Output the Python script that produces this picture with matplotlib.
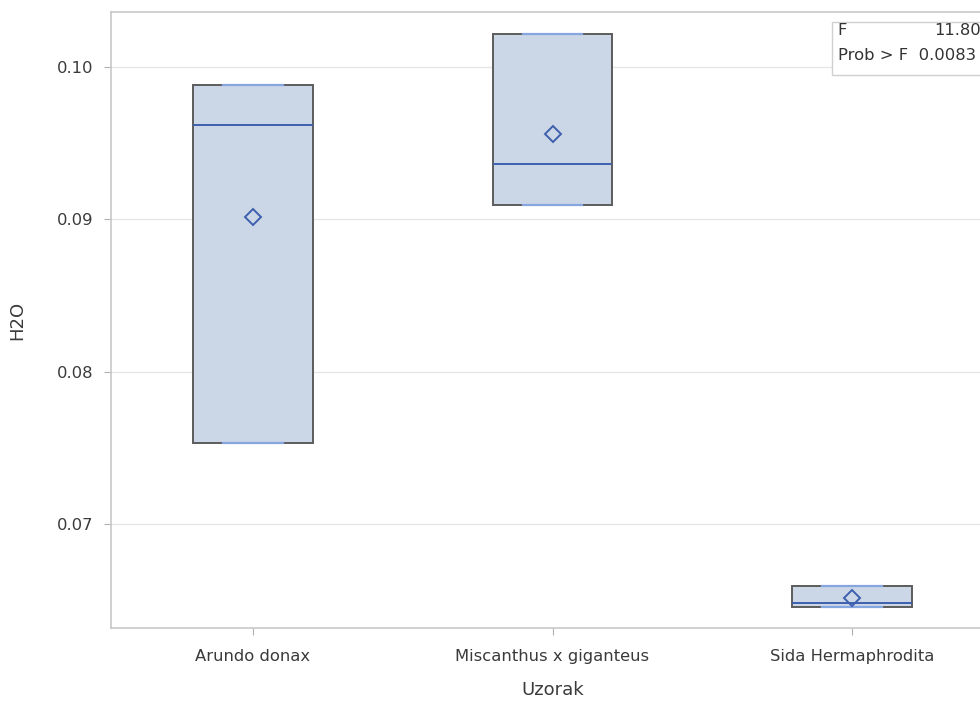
import numpy as np
import matplotlib
matplotlib.use("Agg")
import matplotlib.pyplot as plt

# Datos (H2O por especie)
categorias = ["Arundo donax", "Miscanthus x giganteus", "Sida Hermaphrodita"]
q1 = [0.07532, 0.09092, 0.06455]
mediana = [0.09619, 0.09363, 0.06481]
q3 = [0.09882, 0.10217, 0.06593]
media = [0.09013, 0.09560, 0.06514]
f_valor = "11.80"
prob_f = "0.0083"

plt.rcParams['font.family'] = ['DejaVu Sans']

stats = []
for i in range(len(categorias)):
    stats.append(dict(label=categorias[i], q1=q1[i], med=mediana[i], q3=q3[i],
                      whislo=q1[i], whishi=q3[i], mean=media[i], fliers=[]))

fig = plt.figure(figsize=(9.8, 7.02), dpi=100)
ax = fig.add_axes([0.1133, 0.1054, 0.901, 0.8775])

ax.bxp(stats, positions=range(len(categorias)), widths=0.40, patch_artist=True,
       showmeans=True, showcaps=True,
       boxprops=dict(facecolor="#cbd6e7", edgecolor="#5c5c5c", linewidth=1.4),
       medianprops=dict(color="#3e5fae", linewidth=1.4),
       whiskerprops=dict(color="#6f93d6", linewidth=1.3),
       capprops=dict(color="#86a6e0", linewidth=1.6),
       capwidths=0.20,
       meanprops=dict(marker="D", markerfacecolor="none", markeredgecolor="#3e5fae",
                      markersize=8.5, markeredgewidth=1.4))

ax.set_xlim(-0.474, 2.474)
ax.set_ylim(0.06317, 0.10361)
ax.set_yticks([0.07, 0.08, 0.09, 0.10])
ax.set_yticklabels(["0.07", "0.08", "0.09", "0.10"])
ax.yaxis.grid(True, color="#e6e6e6", linewidth=1)
ax.set_axisbelow(True)

for s in ax.spines.values():
    s.set_color("#c8c8c8")
    s.set_linewidth(1.2)
ax.tick_params(colors="#b0b0b0", labelcolor="#3a3a3a", labelsize=11.8, length=5)
ax.tick_params(axis="y", pad=8)
ax.tick_params(axis="x", pad=10)

ax.set_xlabel("Uzorak", fontsize=13, color="#3a3a3a", labelpad=12)
ax.set_ylabel("H2O", fontsize=13, color="#3a3a3a", labelpad=22)

# recuadro con el estadístico F
ax.text(0.823, 0.982, "F", transform=ax.transAxes, fontsize=11.8, color="#333333",
        va="top", ha="left")
ax.text(0.985, 0.982, f_valor, transform=ax.transAxes, fontsize=11.8, color="#333333",
        va="top", ha="right")
ax.text(0.823, 0.942, "Prob > F  " + prob_f, transform=ax.transAxes, fontsize=11.8,
        color="#333333", va="top", ha="left")
ax.add_patch(plt.Rectangle((0.8165, 0.8977), 0.25, 0.0861, transform=ax.transAxes,
                           facecolor="white", edgecolor="#d0d0d0", linewidth=1, zorder=1))

fig.savefig("out.png", dpi=100)
